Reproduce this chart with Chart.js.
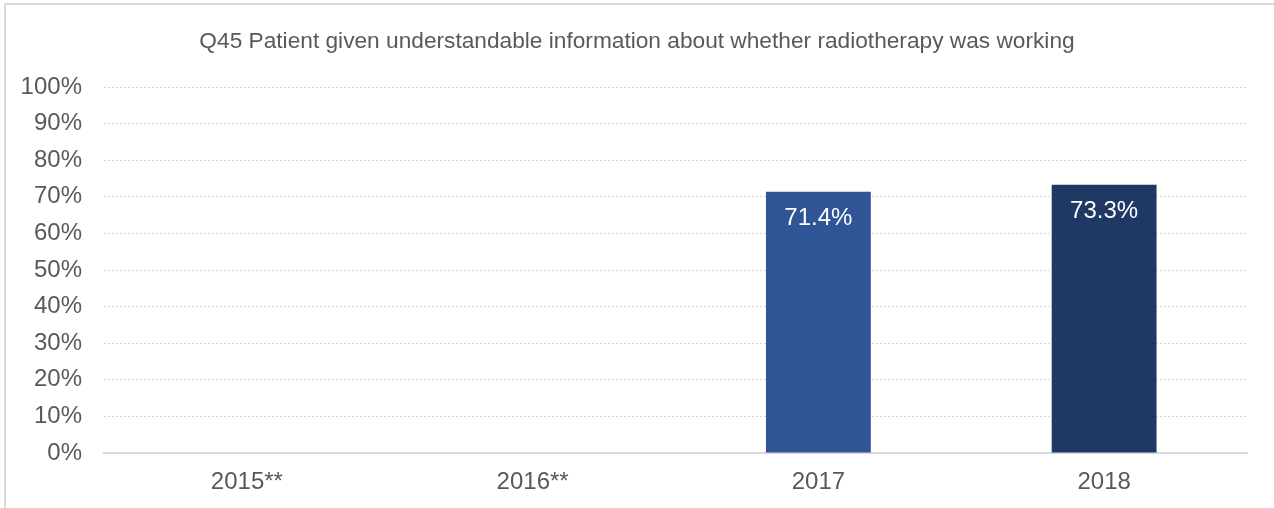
<!DOCTYPE html>
<html>
<head>
<meta charset="utf-8">
<script src="https://cdn.jsdelivr.net/npm/chart.js@4/dist/chart.umd.min.js"></script>
<style>
  html, body { margin: 0; padding: 0; background: #fff; }
  #frame { position: absolute; left: 4px; top: 3px; width: 1300px; height: 540px;
           border-left: 2px solid #d9d9d9; border-top: 2px solid #d9d9d9; }
  #wrap { position: absolute; left: 0; top: 0; width: 1274px; height: 508px; }
</style>
</head>
<body>
<div id="frame"></div>
<div id="wrap"><canvas id="q45"></canvas></div>
<script>
var years = ['2015**', '2016**', '2017', '2018'];
var scores = [null, null, 71.4, 73.3];
var barColours = ['#2F5597', '#2F5597', '#2F5597', '#203864'];
var yTicks = [0, 10, 20, 30, 40, 50, 60, 70, 80, 90, 100];
var chartTitle = 'Q45 Patient given understandable information about whether radiotherapy was working';

var fontFam = '"Liberation Sans", Arial, sans-serif';

// title centred on the whole canvas, not just the padded box
var centredTitle = {
   id: 'centredTitle',
   afterDraw: function(chart) {
      var ctx = chart.ctx;
      ctx.save();
      ctx.fillStyle = '#595959';
      ctx.font = '22.7px ' + fontFam;
      ctx.textAlign = 'center';
      ctx.textBaseline = 'middle';
      ctx.fillText(chartTitle, chart.width / 2, 42);
      ctx.restore();
   }
};

// white value labels inside the top of each bar
var valueLabels = {
   id: 'valueLabels',
   afterDatasetsDraw: function(chart) {
      var ctx = chart.ctx;
      var meta = chart.getDatasetMeta(0);
      ctx.save();
      ctx.fillStyle = '#ffffff';
      ctx.font = '24px ' + fontFam;
      ctx.textAlign = 'center';
      ctx.textBaseline = 'middle';
      meta.data.forEach(function(bar, i) {
         if (scores[i] == null) return;
         ctx.fillText(scores[i].toFixed(1) + '%', bar.x, bar.y + 27);
      });
      ctx.restore();
   }
};

var ctx = document.getElementById('q45').getContext('2d');
var config = {
   type: 'bar',
   data: {
      labels: years,
      datasets: [{
         data: scores,
         backgroundColor: barColours,
         categoryPercentage: 1,
         barPercentage: 0.367
      }]
   },
   options: {
      responsive: true,
      maintainAspectRatio: false,
      animation: false,
      layout: { padding: { left: 0, right: 27, top: 87, bottom: 0 } },
      plugins: {
         legend: { display: false },
         tooltip: { enabled: false },
         title: { display: false }
      },
      scales: {
         x: {
            grid: { display: false },
            border: { color: '#d9d9d9', width: 2 },
            afterFit: function(scale) { scale.height = 55; },
            ticks: {
               color: '#595959',
               padding: 7,
               font: { family: fontFam, size: 24 }
            }
         },
         y: {
            min: 0,
            max: 100,
            afterFit: function(scale) { scale.width = 104; },
            afterBuildTicks: function(scale) {
               scale.ticks = yTicks.map(function(v) { return { value: v }; });
            },
            border: { display: false, dash: [2, 2] },
            grid: {
               color: '#d9d9d9',
               lineWidth: 1,
               drawTicks: false
            },
            ticks: {
               color: '#595959',
               padding: 22,
               font: { family: fontFam, size: 24 },
               callback: function(v) { return v + '%'; }
            }
         }
      }
   },
   plugins: [valueLabels, centredTitle]
};

var chart = new Chart(ctx, config);
</script>
</body>
</html>
